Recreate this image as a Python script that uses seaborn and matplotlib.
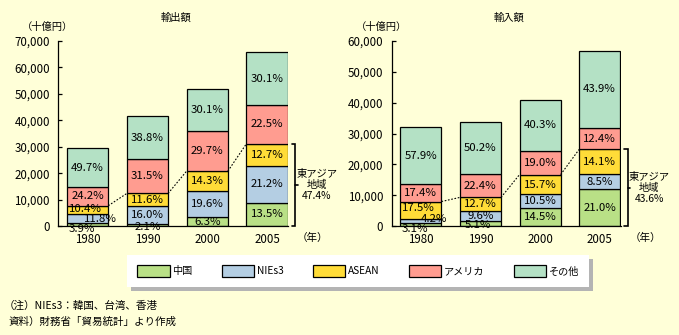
import numpy as np
import pandas as pd
import matplotlib
matplotlib.use("Agg")
import matplotlib.pyplot as plt
from matplotlib.patches import Patch
from matplotlib.ticker import FuncFormatter
import seaborn as sns

# ---------------- data ----------------
years = ["1980", "1990", "2000", "2005"]
regions = ["中国", "NIEs3", "ASEAN", "アメリカ", "その他"]

export_total = [29382, 41457, 51654, 65657]   # 十億円
import_total = [31995, 33855, 40938, 56949]

export_china = [3.9, 2.1, 6.3, 13.5]
export_nies = [11.8, 16.0, 19.6, 21.2]
export_asean = [10.4, 11.6, 14.3, 12.7]
export_us = [24.2, 31.5, 29.7, 22.5]
export_other = [49.7, 38.8, 30.1, 30.1]

import_china = [3.1, 5.1, 14.5, 21.0]
import_nies = [4.2, 9.6, 10.5, 8.5]
import_asean = [17.5, 12.7, 15.7, 14.1]
import_us = [17.4, 22.4, 19.0, 12.4]
import_other = [57.9, 50.2, 40.3, 43.9]

colors = ["#B9E086", "#B4CEE3", "#FFDC38", "#FF9C90", "#B4E1C5"]
BG = "#FFFFD8"

# ---------------- style ----------------
sns.set_style("ticks", rc={"axes.facecolor": BG, "figure.facecolor": BG,
                           "axes.edgecolor": "black", "xtick.color": "black",
                           "ytick.color": "black", "text.color": "black"})
plt.rcParams["font.family"] = ["Noto Sans CJK JP", "DejaVu Sans"]

W, H = 679, 335
fig = plt.figure(figsize=(W / 100, H / 100), dpi=100)
fig.patch.set_facecolor(BG)

BARW = 0.69


def build(total, shares):
    rows = []
    for i in range(len(years)):
        for r, s in zip(regions, shares):
            rows.append({"xi": i, "region": r, "share": s[i],
                         "value": total[i] * s[i] / 100.0})
    return pd.DataFrame(rows)


panels = [
    dict(title="輸出額", total=export_total,
         shares=[export_china, export_nies, export_asean, export_us, export_other],
         ymax=70000, ax_px=(58.3, 229.7),
         special={(0, "中国"): (-4, -3), (0, "NIEs3"): (9.5, -0.3),
                  (0, "ASEAN"): (-1.5, 0.5), (1, "中国"): (0, -1.3)}),
    dict(title="輸入額", total=import_total,
         shares=[import_china, import_nies, import_asean, import_us, import_other],
         ymax=60000, ax_px=(391.7, 228.8),
         special={(0, "中国"): (-4, -3), (0, "NIEs3"): (9.5, 1.2),
                  (0, "ASEAN"): (-2, 1.2), (1, "中国"): (-2, -1.2)}),
]

pal = dict(zip(regions, colors))

for p in panels:
    x0, w = p["ax_px"]
    ax = fig.add_axes([x0 / W, (H - 226) / H, w / W, 185 / H])
    ax.set_facecolor(BG)
    df = build(p["total"], p["shares"])
    sns.histplot(data=df, x="xi", weights="value", hue="region",
                 hue_order=regions[::-1], palette=pal, multiple="stack",
                 discrete=True, shrink=BARW, alpha=1, edgecolor="black",
                 linewidth=0.9, legend=False, ax=ax)
    ax.set_xlim(-0.49, 3.35)
    ax.set_ylim(0, p["ymax"])
    ax.set_yticks(np.arange(0, p["ymax"] + 1, 10000))
    ax.yaxis.set_major_formatter(FuncFormatter(lambda v, _: f"{int(v):,}"))
    ax.set_xticks(range(len(years)))
    ax.set_xticklabels(years)
    ax.set_xlabel("")
    ax.set_ylabel("")
    ax.tick_params(axis="x", length=0, pad=5, labelsize=8.3)
    ax.tick_params(axis="y", direction="in", length=3, width=0.9, pad=6,
                   labelsize=8.3)
    for s in ["top", "right"]:
        ax.spines[s].set_visible(False)
    for s in ["left", "bottom"]:
        ax.spines[s].set_linewidth(0.9)
        ax.spines[s].set_color("black")

    # percentage labels
    for i in range(len(years)):
        base = 0.0
        for r in regions:
            row = df[(df.xi == i) & (df.region == r)].iloc[0]
            v = row["value"]
            dx, dy = p["special"].get((i, r), (0, 0))
            ax.annotate(f"{row['share']:.1f}%", xy=(i, base + v / 2),
                        xytext=(dx, dy), textcoords="offset points",
                        ha="center", va="center", fontsize=8.2,
                        annotation_clip=False, zorder=5)
            base += v

    # dotted connectors: top of East Asia (China+NIEs+ASEAN) block
    ea_top = [sum(p["total"][i] * p["shares"][k][i] / 100.0 for k in range(3))
              for i in range(len(years))]
    for i in range(len(years) - 1):
        ax.plot([i + BARW / 2, i + 1 - BARW / 2], [ea_top[i], ea_top[i + 1]],
                ls=(0, (1.5, 1.5)), color="black", lw=0.8, clip_on=False)

    # bracket for East Asia 2005
    last = len(years) - 1
    top = ea_top[last]
    xv, xh, xn = 3.47, 3.415, 3.51
    mid = top / 2
    ax.plot([xh, xv, xv, xh], [top, top, 0, 0], color="black", lw=1.2,
            clip_on=False, solid_joinstyle="miter")
    ax.plot([xv, xn], [mid, mid], color="black", lw=1.2, clip_on=False)
    ea_share = sum(p["shares"][k][last] for k in range(3))
    ax.text(3.83, mid, f"東アジア\n地域\n{ea_share:.1f}%", ha="center",
            va="center", fontsize=7.4, linespacing=1.12)

    # units and year label
    ax.text(-0.045, 1.0757, "（十億円）", transform=ax.transAxes, ha="center",
            va="center", fontsize=7.4)
    ax.annotate("（年）", xy=(3.76, 0), xycoords=("data", "axes fraction"),
                xytext=(0, -5), textcoords="offset points", ha="center",
                va="top", fontsize=7.6, annotation_clip=False)
    ax.text(0.512, 1.124, p["title"], transform=ax.transAxes, ha="center",
            va="center", fontsize=7.4)

# ---------------- legend ----------------
handles = [Patch(facecolor=c, edgecolor="black", linewidth=0.9) for c in colors]
leg = fig.legend(handles, regions, loc="center",
                 bbox_to_anchor=(127 / W, (H - 289) / H, 462 / W, 36 / H),
                 mode="expand", ncol=5, frameon=True, fancybox=False,
                 shadow={"color": "#B4B4B4", "alpha": 1, "ox": 2.9, "oy": -2.9},
                 handlelength=3.2, handleheight=1.3, handletextpad=0.25,
                 borderpad=1.0, borderaxespad=0, prop={"size": 7.3})
leg.get_frame().set_facecolor("white")
leg.get_frame().set_edgecolor("white")
leg.get_frame().set_linewidth(0)

# ---------------- notes ----------------
fig.text(4 / W, 1 - 305.7 / H, "（注）NIEs3：韓国、台湾、香港", ha="left",
         va="center", fontsize=7.6)
fig.text(9 / W, 1 - 321.7 / H, "資料）財務省「貿易統計」より作成", ha="left",
         va="center", fontsize=7.6)

fig.savefig("out.png", dpi=100, facecolor=BG)
